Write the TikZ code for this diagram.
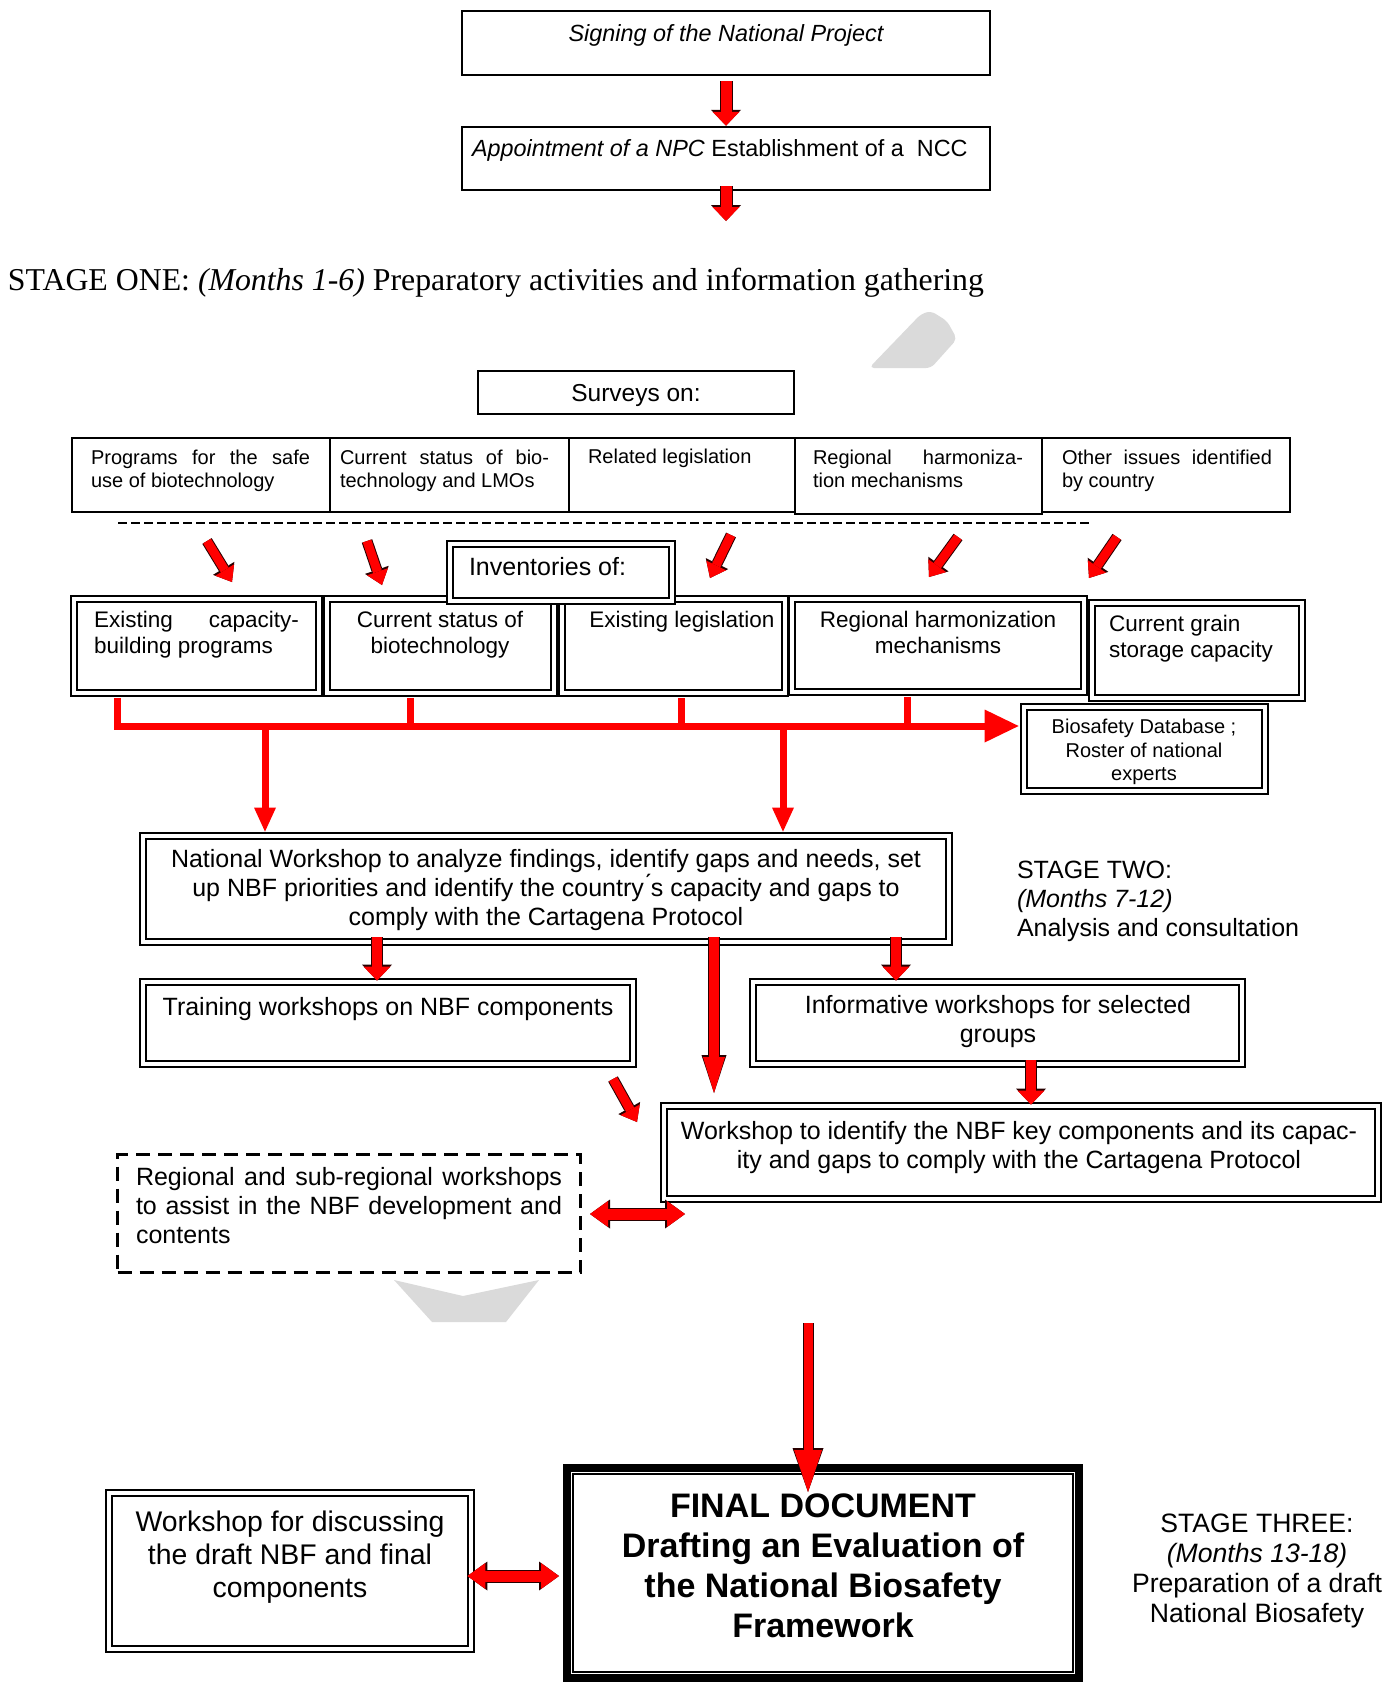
\documentclass[tikz,border=0pt]{standalone}
\usepackage{fontspec}
\setmainfont{Liberation Sans}
\newfontfamily\serifft{Liberation Serif}
\usetikzlibrary{arrows.meta,fit,calc}
\newcommand\myfs[2]{\fontsize{#1}{#2}\selectfont}
\definecolor{greyfill}{RGB}{218,218,218}
\definecolor{outl}{RGB}{40,0,0}
\begin{document}
\begin{tikzpicture}[x=1pt,y=-1pt,
  sbox/.style={draw, line width=2.5pt, inner sep=0pt, fill=white},
  dbox/.style={draw, line width=2.8pt, double=white, double distance=3.2pt, inner sep=0pt, fill=white},
  txt/.style={inner sep=0pt, outer sep=0pt},
  net/.style={draw=red, line width=7pt},
  rarw/.style n args={6}{draw=red, line width=#1, -{Triangle[length=#2, width=#3, line width=0pt]},
     preaction={draw=outl, line width=#4, -{Triangle[length=#5, width=#6, line width=0pt]}}},
  arrbig/.style={rarw={11pt}{14pt}{27pt}{13pt}{16pt}{30pt}},
  arrtilt/.style={rarw={9pt}{14pt}{22pt}{11pt}{16pt}{25pt}},
  arrmid/.style={rarw={10pt}{14pt}{27pt}{12pt}{16pt}{30pt}},
  arrlong/.style={rarw={10pt}{36pt}{22pt}{12pt}{38pt}{25pt}},
  arrfin/.style={rarw={9pt}{42pt}{28pt}{11pt}{44pt}{31pt}},
  arrdbl/.style={draw=red, line width=11pt, {Triangle[length=18pt, width=26pt, line width=0pt]}-{Triangle[length=18pt, width=26pt, line width=0pt]},
     preaction={draw=outl, line width=13pt, {Triangle[length=20pt, width=29pt, line width=0pt]}-{Triangle[length=20pt, width=29pt, line width=0pt]}}},
]
\useasboundingbox (0,0) rectangle (1400,1682);

% light grey background chevrons
\fill[greyfill, rounded corners=5pt] (869,368) -- (921,314) -- (931,311) -- (947,321) -- (957,339) -- (931,368) -- cycle;
\fill[greyfill] (394,1280) -- (463,1296) -- (539,1280) -- (506,1322) -- (432,1322) -- cycle;

% top boxes
\node[sbox, fit={(462,11) (990,75)}] (Sign) {};
\node[txt, font=\myfs{23.4}{27}\itshape] (SignT) at (726,35) {Signing of the National Project};
\node[sbox, fit={(462,127) (990,190)}] (App) {};
\node[txt, font=\myfs{23.4}{27}, anchor=west] (AppT) at (472,150) {\textit{Appointment of a NPC} Establishment of a\ \ NCC};
\coordinate (s1end) at (726,221);
\draw[arrbig, shorten <=5pt] (Sign.south) -- (App.north);
\draw[arrbig, shorten <=-5pt] (App.south) -- (s1end);

% stage one
\node[txt, font=\serifft\myfs{31.8}{36}, anchor=base west] (S1) at (8,290) {STAGE ONE: \textit{(Months 1-6)} Preparatory activities and information gathering};

% surveys
\node[sbox, fit={(478,371) (794,414)}] (Surv) {};
\node[txt, font=\myfs{24.5}{28}] (SurvT) at (636,395) {Surveys on:};

\node[sbox, fit={(72,438) (330,512)}] (c1) {};
\node[sbox, fit={(330,438) (569,512)}] (c2) {};
\node[sbox, fit={(569,438) (795,512)}] (c3) {};
\node[sbox, fit={(795,438) (1042,514)}] (c4) {};
\node[sbox, fit={(1042,438) (1290,512)}] (c5) {};
\node[txt, font=\myfs{20}{22.5}, anchor=north west, text width=219pt, align=justify] (c1t) at (91,450) {Programs for the safe\linebreak use of biotechnology};
\node[txt, font=\myfs{20}{22.5}, anchor=north west, text width=209pt, align=justify] (c2t) at (340,450) {Current status of bio-\linebreak technology and LMOs};
\node[txt, font=\myfs{20}{22.5}, anchor=north west] (c3t) at (588,449) {Related legislation};
\node[txt, font=\myfs{20}{22.5}, anchor=north west, text width=210pt, align=justify] (c4t) at (813,450) {Regional harmoniza-\linebreak tion mechanisms};
\node[txt, font=\myfs{20}{22.5}, anchor=north west, text width=210pt, align=justify] (c5t) at (1062,450) {Other issues identified\linebreak by country};

\coordinate (dl1) at (118,523); \coordinate (dl2) at (1089,523);
\draw[line width=2.5pt, dash pattern=on 9pt off 4pt] (dl1) -- (dl2);

% inventories
\node[dbox, fit={(74,599) (319,693)}] (A) {};
\node[dbox, fit={(327,599) (554,693)}] (B) {};
\node[dbox, fit={(562,599) (785,693)}] (C) {};
\node[dbox, fit={(792,599) (1084,692)}] (D) {};
\node[dbox, fit={(1092,603) (1302,698)}] (E) {};
\node[dbox, fit={(450,544) (672,601)}] (Inv) {};
\node[dbox, fit={(1024,707) (1265,791)}] (Bio) {};
\node[txt, font=\myfs{25}{29}, anchor=north west] (InvT) at (469,557) {Inventories of:};
\node[txt, font=\myfs{22.5}{26}, anchor=north west, text width=205pt, align=justify] (At) at (94,611) {Existing capacity-\linebreak building programs};
\node[txt, font=\myfs{22.5}{26}, anchor=north, align=center] (Bt) at (440,611) {Current status of\\biotechnology};
\node[txt, font=\myfs{22.5}{26}, anchor=north, align=center] (Ct) at (682,611) {Existing legislation};
\node[txt, font=\myfs{22.5}{26}, anchor=north, align=center] (Dt) at (938,611) {Regional harmonization\\mechanisms};
\node[txt, font=\myfs{22.5}{26}, anchor=north west, align=left] (Et) at (1109,615) {Current grain\\storage capacity};
\node[txt, font=\myfs{20}{23.5}, anchor=north, align=center] (Biot) at (1144,719) {Biosafety Database ;\\Roster of national\\experts};

% tilted arrows
\coordinate (ta1) at (207,541); \coordinate (tb1) at (232,582);
\coordinate (ta2) at (367,541); \coordinate (tb2) at (382,585);
\coordinate (ta3) at (731,535); \coordinate (tb3) at (710,578);
\coordinate (ta4) at (958,537); \coordinate (tb4) at (929,577);
\coordinate (ta5) at (1117,537); \coordinate (tb5) at (1089,578);
\draw[arrtilt] (ta1) -- (tb1);
\draw[arrtilt] (ta2) -- (tb2);
\draw[arrtilt] (ta3) -- (tb3);
\draw[arrtilt] (ta4) -- (tb4);
\draw[arrtilt] (ta5) -- (tb5);

% red network
\coordinate (busA) at (117,726);
\coordinate (busB) at (410,726);
\coordinate (busC) at (681,726);
\coordinate (busD) at (907,726);
\coordinate (dn1) at (265,726);
\coordinate (dn2) at (783,726);
\draw[net, shorten <=4pt, shorten >=4pt, -{Triangle[length=34pt,width=33pt,line width=0pt]}] (A.south -| busA) -- (busA) -- (Bio.west |- busA);
\draw[net, shorten <=4pt] (B.south -| busB) -- (busB);
\draw[net, shorten <=4pt] (C.south -| busC) -- (busC);
\draw[net, shorten <=4pt] (D.south -| busD) -- (busD);

% national workshop
\node[dbox, fit={(143,836) (949,942)}] (NW) {};
\draw[net, shorten >=3pt, -{Triangle[length=24pt,width=22pt,line width=0pt]}] (dn1) -- (NW.north -| dn1);
\draw[net, shorten >=3pt, -{Triangle[length=24pt,width=22pt,line width=0pt]}] (dn2) -- (NW.north -| dn2);
\node[txt, font=\myfs{25}{29}, anchor=north, align=center] (NWt) at (546,849) {National Workshop to analyze findings, identify gaps and needs, set\\up NBF priorities and identify the country\'{}s capacity and gaps to\\comply with the Cartagena Protocol};
\node[txt, font=\myfs{25}{29}, anchor=north west, align=left] (S2) at (1017,861) {STAGE TWO:\\\textit{(Months 7-12)}\\Analysis and consultation};

\node[dbox, fit={(143,982) (633,1064)}] (Tr) {};
\node[txt, font=\myfs{25}{29}, anchor=north] (Trt) at (388,997) {Training workshops on NBF components};
\node[dbox, fit={(753,982) (1242,1064)}] (Inf) {};
\node[txt, font=\myfs{25}{29}, anchor=north, align=center] (Inft) at (998,995) {Informative workshops for selected\\groups};
\node[dbox, fit={(664,1106) (1378,1199)}] (WI) {};
\node[txt, font=\myfs{25}{29}, anchor=north, align=center] (WIt) at (1019,1121) {Workshop to identify the NBF key components and its capac-\\ity and gaps to comply with the Cartagena Protocol};
\node[draw, line width=3pt, dash pattern=on 14pt off 8pt, inner sep=0pt, fit={(117.5,1154.5) (580.5,1272.5)}] (Reg) {};
\node[txt, font=\myfs{25}{29}, anchor=north west, text width=426pt, align=justify] (Regt) at (136,1167) {Regional and sub-regional workshops\linebreak to assist in the NBF development and\linebreak contents};

\coordinate (xa) at (377,0);
\coordinate (xb) at (896,0);
\coordinate (xc) at (1031,0);
\coordinate (longend) at (714,1093);
\draw[arrmid, shorten <=-6pt] (NW.south -| xa) -- (Tr.north -| xa);
\draw[arrlong, shorten <=-6pt] (NW.south -| longend) -- (longend);
\draw[arrmid, shorten <=-6pt] (NW.south -| xb) -- (Inf.north -| xb);
\draw[arrmid, shorten <=-5pt] (Inf.south -| xc) -- (WI.north -| xc);
\coordinate (tt1) at (613,1079); \coordinate (tt2) at (637,1122);
\draw[arrtilt] (tt1) -- (tt2);
\coordinate (dbe) at (685,1214);
\draw[arrdbl, shorten <=8pt] (Reg.east |- dbe) -- (dbe);

% final
\node[draw, line width=8pt, inner sep=0pt, fill=white, fit={(567,1468) (1079,1678)}] (FD) {};
\draw[line width=2.5pt] ($(FD.north west)+(10,10)$) rectangle ($(FD.south east)+(-10,-10)$);
\node[txt, font=\myfs{34}{40}\bfseries, anchor=north, align=center] (FDt) at (823,1494) {FINAL DOCUMENT\\Drafting an Evaluation of\\the National Biosafety\\Framework};
\node[dbox, fit={(109,1493) (471,1649)}] (WD) {};
\node[txt, font=\myfs{28.4}{33}, anchor=north, align=center] (WDt) at (290,1511) {Workshop for discussing\\the draft NBF and final\\components};
\node[txt, font=\myfs{26.6}{30}, anchor=north, align=center] (S3) at (1257,1514) {STAGE THREE:\\\textit{(Months 13-18)}\\Preparation of a draft\\National Biosafety};

\coordinate (fa) at (808,1323); \coordinate (fb) at (808,1492);
\draw[arrfin] (fa) -- (fb);
\coordinate (dy) at (0,1576);
\draw[arrdbl, shorten <=-5pt, shorten >=4pt] (WD.east |- dy) -- (FD.west |- dy);
\end{tikzpicture}
\end{document}
